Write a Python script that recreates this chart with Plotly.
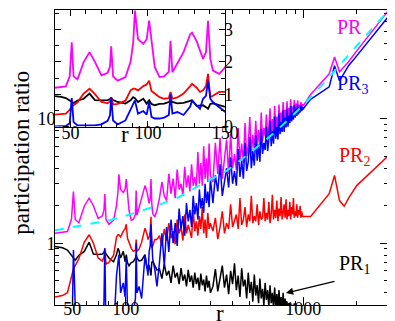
import math
import plotly.graph_objects as go

# ---- r grid -------------------------------------------------------------
r_low = [40, 44, 47, 49.5, 50.8, 52, 54.5, 58.5, 62.3, 65.8,
         70, 74, 75.5, 76.3, 77.5, 80.5, 85.5, 88.8, 90.5, 91.6,
         93.6, 97, 99.2, 100.8, 102.3, 104.4, 107.5, 110.5, 113.5, 114.6,
         115.8, 119, 123, 127.3, 128.5, 131.5, 133.6, 135.6, 137.5, 138.8,
         140.3, 142, 146, 150]
r_mid = list(range(155, 301, 5))
r_hi = list(range(310, 1001, 10))
r_tail = [1100, 1400, 1500, 1600, 1700, 1800, 2000, 3000]

# ---- PR (magenta) -------------------------------------------------------
pr_low = [1.20, 1.22, 1.24, 1.55, 2.60, 1.55, 1.46, 1.99, 2.30, 2.00,
          1.58, 1.66, 1.85, 2.48, 1.55, 1.42, 1.53, 2.00, 2.60, 3.58,
          2.70, 2.55, 2.70, 3.27, 2.60, 1.84, 1.53, 1.55, 1.70, 2.65,
          1.68, 1.94, 2.30, 2.85, 2.90, 2.63, 2.35, 2.09, 2.30, 3.27,
          2.09, 1.73, 1.63, 1.84]
pr_mid = [2.3, 3.1, 2.4, 2.2, 3.6, 2.5, 3.3, 2.3, 3.9, 2.7,
          3.0, 2.4, 4.1, 2.8, 3.5, 2.6, 4.3, 2.9, 3.4, 2.8,
          5.4, 3.0, 4.4, 2.9, 6.0, 3.3, 4.8, 3.1, 6.3, 3.5]
pr_hi = [3.1, 6.4, 3.6, 7.0, 3.3, 5.0, 6.8, 3.6, 7.6, 4.0,
         5.2, 3.9, 8.4, 4.6, 6.3, 4.4, 9.2, 5.0, 6.1, 10.3,
         5.2, 7.4, 5.6, 9.6, 6.0, 8.1, 5.9, 11.2, 6.6, 8.4,
         7.2, 10.8, 6.9, 8.6, 12.1, 7.4, 9.9, 7.6, 12.6, 8.3,
         10.4, 8.0, 13.0, 8.8, 11.2, 9.2, 13.6, 9.0, 11.8, 9.8,
         13.8, 9.7, 12.2, 10.4, 14.3, 10.6, 12.5, 10.9, 14.1, 11.2,
         13.2, 11.4, 14.0, 11.6, 12.9, 12.0, 13.6, 12.2, 13.1, 12.7]
pr_tail = [15.6, 22.9, 31.3, 23.8, 26.0, 28.6, 35.0, 73.0]

# ---- PR1 (black) --------------------------------------------------------
pr1_low = [0.94, 0.92, 0.88, 0.80, 0.76, 0.73, 0.80, 0.86, 1.02, 0.82,
           0.81, 0.82, 0.85, 0.88, 0.82, 0.76, 0.71, 0.81, 0.91, 0.88,
           0.76, 0.86, 0.71, 0.81, 0.70, 0.66, 0.70, 0.71, 0.76, 0.81,
           0.76, 0.72, 0.73, 0.78, 0.81, 0.64, 0.65, 0.66, 0.60, 0.55,
           0.70, 0.72, 0.66, 0.61]
pr1_mid = [0.62, 0.52, 0.68, 0.55, 0.60, 0.48, 0.66, 0.53, 0.58, 0.47,
           0.63, 0.50, 0.56, 0.45, 0.61, 0.49, 0.55, 0.44, 0.58, 0.47,
           0.53, 0.42, 0.57, 0.46, 0.51, 0.41, 0.55, 0.44, 0.50, 0.40]
pr1_hi = [0.45, 0.62, 0.41, 0.52, 0.66, 0.44, 0.56, 0.39, 0.60, 0.47,
          0.69, 0.42, 0.55, 0.37, 0.63, 0.45, 0.51, 0.36, 0.58, 0.40,
          0.49, 0.34, 0.56, 0.38, 0.46, 0.33, 0.52, 0.36, 0.43, 0.32,
          0.48, 0.35, 0.42, 0.31, 0.46, 0.33, 0.40, 0.30, 0.44, 0.31,
          0.39, 0.29, 0.42, 0.30, 0.37, 0.28, 0.40, 0.29, 0.36, 0.27,
          0.34, 0.26, 0.33, 0.25, 0.33, 0.25, 0.32, 0.24, 0.33, 0.24]

# ---- PR2 (red) ----------------------------------------------------------
pr2_low = [0.37, 0.38, 0.40, 0.52, 0.62, 0.66, 0.75, 1.02, 1.17, 1.00,
           0.76, 0.72, 0.78, 0.91, 0.68, 0.70, 0.80, 1.12, 1.17, 1.17,
           1.12, 1.25, 1.30, 1.42, 1.10, 1.02, 0.91, 0.86, 0.88, 1.07,
           0.86, 0.90, 1.02, 1.25, 1.32, 1.20, 1.07, 1.12, 1.25, 1.63,
           0.91, 0.95, 1.07, 1.07]
pr2_mid = [1.15, 0.95, 1.30, 1.05, 1.45, 1.10, 1.25, 0.98, 1.55, 1.20,
           1.35, 1.05, 1.70, 1.20, 1.40, 1.25, 1.10, 1.85, 1.25, 1.50,
           1.15, 1.65, 1.30, 1.95, 1.20, 1.55, 1.10, 1.75, 1.30, 1.45]
pr2_hi = [1.25, 1.60, 1.08, 1.35, 1.80, 1.20, 1.45, 1.30, 2.05, 1.35,
          1.55, 1.70, 1.30, 2.30, 1.40, 1.55, 1.95, 1.35, 1.70, 1.50,
          2.40, 1.45, 1.65, 1.50, 2.05, 1.40, 1.80, 1.55, 1.60, 2.30,
          1.50, 1.75, 1.55, 2.15, 1.45, 1.70, 2.45, 1.55, 1.85, 1.60,
          2.20, 1.50, 1.90, 1.65, 2.35, 1.55, 1.75, 2.05, 1.60, 2.25,
          1.55, 1.85, 1.65, 2.15, 1.55, 1.95, 1.70, 2.30, 1.60, 1.80,
          1.65, 2.05, 1.60, 1.85, 1.70, 2.00, 1.60, 1.80, 1.64, 1.64]
pr2_tail = [1.64, 2.50, 3.50, 2.20, 1.98, 2.30, 2.90, 5.00]

# ---- PR3 (blue) ---------------------------------------------------------
pr3_low = [0.01, 0.01, 0.02, 0.10, 0.88, 0.14, 0.04, 0.04, 0.04, 0.04,
           0.07, 0.18, 0.35, 0.91, 0.19, 0.07, 0.19, 0.55, 0.70, 0.81,
           0.40, 0.48, 0.37, 0.76, 0.30, 0.25, 0.25, 0.28, 0.36, 1.00,
           0.40, 0.45, 0.36, 0.62, 0.80, 0.65, 0.55, 0.86, 0.95, 1.42,
           0.86, 0.75, 0.61, 0.45]
pr3_mid = [0.70, 1.20, 0.65, 1.35, 0.85, 1.55, 1.00, 1.45, 0.95, 1.90,
           1.30, 1.65, 1.15, 2.10, 1.50, 1.85, 1.35, 2.40, 1.70, 2.10,
           1.55, 2.70, 1.90, 2.30, 1.75, 3.00, 2.10, 2.60, 1.95, 3.30]
pr3_hi = [2.1, 3.5, 2.6, 4.3, 2.4, 3.1, 4.0, 2.8, 4.9, 3.0,
          3.8, 2.9, 5.7, 3.4, 4.6, 3.3, 6.4, 3.8, 4.5, 7.1,
          4.0, 5.5, 4.2, 7.4, 4.6, 6.2, 4.5, 8.3, 5.2, 6.4,
          5.6, 8.6, 5.5, 6.8, 9.6, 6.0, 8.0, 6.3, 10.4, 6.9,
          8.6, 6.8, 11.0, 7.5, 9.4, 7.8, 11.6, 7.8, 10.2, 8.5,
          12.0, 8.6, 10.6, 9.2, 12.6, 9.5, 11.2, 9.8, 12.8, 10.2,
          12.0, 10.5, 13.0, 10.8, 12.0, 11.2, 12.8, 11.5, 12.4, 12.0]
pr3_tail = [14.3, 18.0, 26.6, 20.1, 23.0, 26.6, 31.9, 65.5]

# ---- fit (cyan dashed) --------------------------------------------------
fit_r = [40, 60, 80, 100, 150, 200, 270, 370, 500, 700, 1000, 1400, 2000, 3000]
fit_v = [1.27, 1.40, 1.52, 1.66, 2.0, 2.35, 3.0, 3.8, 5.3, 7.9, 12.8, 21.5, 38.5, 73.0]

r_all = r_low + r_mid + r_hi + r_tail
series = [
    ("PR1", pr1_low + pr1_mid + pr1_hi, "#000000"),
    ("PR2", pr2_low + pr2_mid + pr2_hi + pr2_tail, "#ff0000"),
    ("PR", pr_low + pr_mid + pr_hi + pr_tail, "#ff00ff"),
    ("PR3", pr3_low + pr3_mid + pr3_hi + pr3_tail, "#0000ff"),
]

# ---- geometry -----------------------------------------------------------
W, H = 395, 321
ML, MR, MT, MB = 47, 2, 1, 24
PW, PH = W - ML - MR, H - MT - MB
FONT = "Liberation Serif, Times New Roman, serif"
INSET_X = [40, 150]
INSET_Y = [0, 3.6]


def px(x):
    return (x - ML) / PW


def py(y):
    return (H - MB - y) / PH


fig = go.Figure()

for name, vals, color in series:
    fig.add_trace(go.Scatter(x=r_all[:len(vals)], y=vals, mode="lines", name=name,
                             line=dict(color=color, width=1.5), xaxis="x", yaxis="y"))
fig.add_trace(go.Scatter(x=fit_r, y=fit_v, mode="lines", name="fit",
                         line=dict(color="#00ffff", width=2, dash="dash"),
                         xaxis="x", yaxis="y"))

# inset: same data, linear axes
for name, vals, color in series:
    fig.add_trace(go.Scatter(x=r_all[:len(vals)], y=vals, mode="lines", name=name,
                             line=dict(color=color, width=1.8), xaxis="x2", yaxis="y2"))

axis_common = dict(showline=True, linecolor="black", linewidth=1, mirror="ticks",
                   ticks="inside", tickcolor="black", tickwidth=1,
                   tickfont=dict(family=FONT, size=18, color="black"),
                   showgrid=False, zeroline=False)

fig.update_layout(
    width=W, height=H,
    margin=dict(l=ML, r=MR, t=MT, b=MB),
    paper_bgcolor="white", plot_bgcolor="white",
    showlegend=False,
    xaxis=dict(type="log", range=[math.log10(40), math.log10(3000)], domain=[0, 1],
               tickmode="array", tickvals=[50, 100, 1000], ticktext=["50", "100", "1000"],
               ticklen=8, ticklabelstandoff=-13,
               minor=dict(tickmode="array", ticks="inside", ticklen=4, tickcolor="black",
                          tickvals=[40, 60, 70, 80, 90, 200, 300, 400, 500, 600, 700, 800,
                                    900, 2000, 3000]),
               **axis_common),
    yaxis=dict(type="log", range=[-0.496, 1.872], domain=[0, 1],
               tickmode="array", tickvals=[1, 10], ticktext=["1", "10"],
               ticklen=8, ticklabelstandoff=-5,
               minor=dict(tickmode="array", ticks="inside", ticklen=4, tickcolor="black",
                          tickvals=[0.4, 0.5, 0.6, 0.7, 0.8, 0.9, 2, 3, 4, 5, 6, 7, 8, 9,
                                    20, 30, 40, 50, 60, 70]),
               **axis_common),
    xaxis2=dict(range=INSET_X, domain=[0, px(224)], anchor="y2",
                tickmode="array", tickvals=[50, 100, 150], ticklen=6, ticklabelstandoff=-10,
                minor=dict(dtick=10, tick0=40, ticks="inside", ticklen=4, tickcolor="black"),
                **axis_common),
    yaxis2=dict(range=INSET_Y, domain=[py(118), 1], anchor="x2", side="right",
                tickmode="array", tickvals=[0, 1, 2, 3], ticklen=6, ticklabelstandoff=-6,
                minor=dict(dtick=0.5, tick0=0, ticks="inside", ticklen=4, tickcolor="black"),
                **axis_common),
)

# white background of the inset, drawn above the main traces
fig.add_shape(type="rect", xref="x2", yref="y2", layer="below",
              x0=INSET_X[0], x1=INSET_X[1], y0=INSET_Y[0], y1=INSET_Y[1],
              fillcolor="white", line=dict(width=0))

title_font = dict(family=FONT, size=23, color="black")
fig.add_annotation(text="participation ratio", textangle=-90, xref="paper", yref="paper",
                   x=px(12), y=py(144), showarrow=False, xanchor="center", yanchor="middle",
                   font=title_font)
fig.add_annotation(text="r", xref="paper", yref="paper", x=px(218), y=py(306),
                   showarrow=False, xanchor="center", yanchor="middle", font=title_font)
fig.add_annotation(text="r", xref="paper", yref="paper", x=px(120), y=py(126),
                   showarrow=False, xanchor="center", yanchor="middle", font=title_font)

labels = [("PR", 338, 18, "#ff00ff"),
          ("PR<sub>3</sub>", 338, 76, "#0000ff"),
          ("PR<sub>2</sub>", 340, 148, "#ff0000"),
          ("PR<sub>1</sub>", 340, 256, "#000000")]
for txt, lx, ly, col in labels:
    fig.add_annotation(text=txt, xref="paper", yref="paper", x=px(lx), y=py(ly),
                       xanchor="left", yanchor="middle", showarrow=False,
                       font=dict(family=FONT, size=20, color=col))

fig.add_annotation(text="", xref="paper", yref="paper", x=px(287), y=py(285),
                   showarrow=True, ax=50, ay=-12, arrowhead=2, arrowsize=1.2,
                   arrowwidth=1.2, arrowcolor="black")

fig.write_html("out.html")
